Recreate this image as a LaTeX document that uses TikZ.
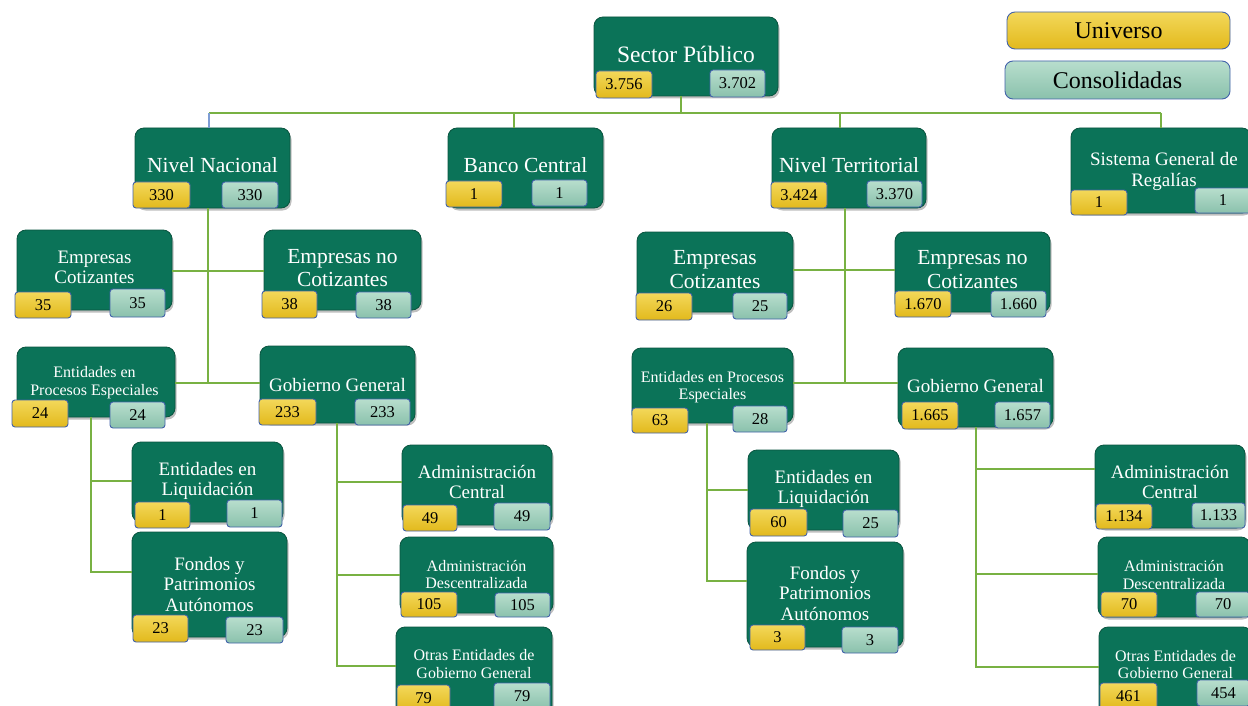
\documentclass[tikz,border=0pt]{standalone}
\usepackage{fontspec}
\setmainfont{Liberation Serif}
\usetikzlibrary{shadows}
\definecolor{gfill}{HTML}{0B7358}
\definecolor{gborder}{HTML}{09543F}
\definecolor{ytop}{HTML}{F3D85A}
\definecolor{ybot}{HTML}{E2B91C}
\definecolor{ttop}{HTML}{B8DECD}
\definecolor{tbot}{HTML}{8AC1AC}
\definecolor{bborder}{HTML}{4262AA}
\definecolor{lgreen}{HTML}{78B143}
\definecolor{lblue}{HTML}{7E9DD4}
\tikzset{
  gbox/.style={draw=gborder, line width=0.8pt, fill=gfill, rounded corners=9pt,
    inner sep=0pt, outer sep=0pt,
    drop shadow={shadow xshift=1.5pt, shadow yshift=-2.5pt, opacity=0.5}},
  numbox/.style={draw=bborder, line width=0.9pt, rounded corners=3pt,
    inner sep=0pt, outer sep=0pt, text=black,
    font=\fontsize{16.5}{18}\selectfont},
  ub/.style={numbox, top color=ytop, bottom color=ybot},
  cb/.style={numbox, top color=ttop, bottom color=tbot},
  gt/.style={text=white, align=center, inner sep=0pt},
  fa/.style={font=\fontsize{16}{17.5}\selectfont},
  fb/.style={font=\fontsize{19}{20.5}\selectfont},
  fc/.style={font=\fontsize{21.5}{23.5}\selectfont},
  conn/.style={draw=lgreen, line width=2.6pt},
  thinconn/.style={draw=lblue, line width=1.2pt}
}
\newcommand\gb[5]{\node[gbox, minimum width={#4-#2}, minimum height={#5-#3}] (#1) at ({(#2+#4)/2},{(#3+#5)/2}) {};}
\newcommand\nb[7]{\node[#1, minimum width={#5-#3}, minimum height={#6-#4}] (#2) at ({(#3+#5)/2},{(#4+#6)/2}) {#7};}
\begin{document}
\begin{tikzpicture}[x=1pt,y=-1pt]
\useasboundingbox (0,0) rectangle (1248,706);
\fill[white] (0,0) rectangle (1248,706);
\clip (0,0) rectangle (1248,706);

% ---------- boxes (nodes first, connectors drawn on background later) ----------
\begin{scope}
% level 0
\gb{SP}{594}{17}{778}{96}
% level 1
\gb{NN}{135}{128}{290}{208}
\gb{BC}{448}{128}{603}{208}
\gb{NT}{772}{128}{926}{208}
\gb{SGR}{1071}{128}{1251}{213}
% left side
\gb{ECL}{17}{230}{172}{310}
\gb{ENCL}{264}{230}{421}{310}
\gb{EPEL}{17}{347}{175}{417}
\gb{GGL}{260}{346}{415}{423}
\gb{ELL}{132}{442}{283}{522}
\gb{FPL}{132}{532}{287}{637}
\gb{ACL}{402}{445}{552}{525}
\gb{ADL}{400}{537}{553}{613}
\gb{OEL}{396}{627}{552}{720}
% right side
\gb{ECR}{637}{232}{793}{312}
\gb{ENCR}{895}{232}{1050}{312}
\gb{EPER}{632}{348}{793}{423}
\gb{GGR}{898}{348}{1053}{427}
\gb{ELR}{748}{450}{899}{530}
\gb{FPR}{747}{542}{903}{647}
\gb{ACR}{1095}{445}{1245}{528}
\gb{ADR}{1098}{537}{1250}{617}
\gb{OER}{1099}{627}{1252}{720}
\end{scope}

% ---------- connectors ----------
\coordinate (busL) at (209,113);
\coordinate (busR) at (1161,113);
\coordinate (jSP) at (681,113);
\coordinate (jBC) at (514,113);
\coordinate (jNT) at (840,113);
\draw[conn] (busL) -- (busR);
\draw[conn] (jSP) -- (jSP |- SP.south);
\draw[conn] (jBC) -- (jBC |- BC.north);
\draw[conn] (jNT) -- (jNT |- NT.north);
\draw[conn] (busR) -- (busR |- SGR.north);
\draw[thinconn] (busL) -- (busL |- NN.north);

% left tree
\coordinate (tL) at (208,383);
\coordinate (eL) at (208,271);
\draw[conn] (tL |- NN.south) -- (tL);
\draw[conn] (eL -| ECL.east) -- (eL -| ENCL.west);
\draw[conn] (tL -| EPEL.east) -- (tL -| GGL.west);
\coordinate (sL) at (91,572);
\coordinate (sL1) at (91,481);
\draw[conn] (sL |- EPEL.south) -- (sL) -- (sL -| FPL.west);
\draw[conn] (sL1) -- (sL1 -| ELL.west);
\coordinate (gL) at (337,666);
\coordinate (gL1) at (337,482);
\coordinate (gL2) at (337,575);
\draw[conn] (gL |- GGL.south) -- (gL) -- (gL -| OEL.west);
\draw[conn] (gL1) -- (gL1 -| ACL.west);
\draw[conn] (gL2) -- (gL2 -| ADL.west);

% right tree
\coordinate (tR) at (845,383);
\coordinate (eR) at (845,270);
\draw[conn] (tR |- NT.south) -- (tR);
\draw[conn] (eR -| ECR.east) -- (eR -| ENCR.west);
\draw[conn] (tR -| EPER.east) -- (tR -| GGR.west);
\coordinate (sR) at (707,581);
\coordinate (sR1) at (707,490);
\draw[conn] (sR |- EPER.south) -- (sR) -- (sR -| FPR.west);
\draw[conn] (sR1) -- (sR1 -| ELR.west);
\coordinate (gR) at (976,667);
\coordinate (gR1) at (976,469);
\coordinate (gR2) at (976,574);
\draw[conn] (gR |- GGR.south) -- (gR) -- (gR -| OER.west);
\draw[conn] (gR1) -- (gR1 -| ACR.west);
\draw[conn] (gR2) -- (gR2 -| ADR.west);

% ---------- texts ----------
\node[gt, font=\fontsize{23.5}{25}\selectfont, anchor=base] (SPt) at (686,63) {Sector Público};
\node[gt, fc, anchor=base] (NNt) at (212.5,173) {Nivel Nacional};
\node[gt, fc, anchor=base] (BCt) at (525.5,173) {Banco Central};
\node[gt, fc, anchor=base] (NTt) at (849,173) {Nivel Territorial};
\node[gt, fb] (SGRt) at (1164,171.5) {Sistema General de\\Regalías};
\node[gt, fb] (ECLt) at (94.5,267.5) {Empresas\\Cotizantes};
\node[gt, fc] (ENCLt) at (342.5,268) {Empresas no\\Cotizantes};
\node[gt, fa] (EPELt) at (94.5,382.5) {Entidades en\\Procesos Especiales};
\node[gt, fb, anchor=base] (GGLt) at (337.5,391) {Gobierno General};
\node[gt, fb] (ELLt) at (207.5,481) {Entidades en\\Liquidación};
\node[gt, fb] (FPLt) at (209.5,584) {Fondos y\\Patrimonios\\Autónomos};
\node[gt, fb] (ACLt) at (477,482) {Administración\\Central};
\node[gt, fa] (ADLt) at (476.5,574.5) {Administración\\Descentralizada};
\node[gt, fa] (OELt) at (474,664) {Otras Entidades de\\Gobierno General};
\node[gt, fc] (ECRt) at (715,269.5) {Empresas\\Cotizantes};
\node[gt, fc] (ENCRt) at (972.5,269.5) {Empresas no\\Cotizantes};
\node[gt, fa] (EPERt) at (712.5,387) {Entidades en Procesos\\Especiales};
\node[gt, fb, anchor=base] (GGRt) at (975.5,392) {Gobierno General};
\node[gt, fb] (ELRt) at (823.5,489) {Entidades en\\Liquidación};
\node[gt, fb] (FPRt) at (825,593) {Fondos y\\Patrimonios\\Autónomos};
\node[gt, fb] (ACRt) at (1170,482) {Administración\\Central};
\node[gt, fa] (ADRt) at (1174,575) {Administración\\Descentralizada};
\node[gt, fa] (OERt) at (1175.5,664.5) {Otras Entidades de\\Gobierno General};

% ---------- number boxes ----------
\nb{ub}{SPu}{596}{71}{652}{98}{3.756}
\nb{cb}{SPc}{710}{70}{765}{97}{3.702}
\nb{ub}{NNu}{133}{182}{190}{208}{330}
\nb{cb}{NNc}{222}{182}{278}{208}{330}
\nb{ub}{BCu}{446}{181}{502}{207}{1}
\nb{cb}{BCc}{532}{180}{587}{206}{1}
\nb{ub}{NTu}{771}{182}{827}{208}{3.424}
\nb{cb}{NTc}{867}{181}{922}{207}{3.370}
\nb{ub}{SGRu}{1071}{190}{1127}{215}{1}
\nb{cb}{SGRc}{1195}{188}{1251}{213}{1}
\nb{ub}{ECLu}{15}{292}{71}{318}{35}
\nb{cb}{ECLc}{110}{289}{165}{317}{35}
\nb{ub}{ENCLu}{262}{291}{317}{318}{38}
\nb{cb}{ENCLc}{356}{292}{411}{318}{38}
\nb{ub}{EPELu}{12}{400}{68}{427}{24}
\nb{cb}{EPELc}{110}{402}{165}{428}{24}
\nb{ub}{GGLu}{259}{399}{316}{425}{233}
\nb{cb}{GGLc}{355}{399}{410}{425}{233}
\nb{ub}{ELLu}{135}{502}{190}{528}{1}
\nb{cb}{ELLc}{227}{500}{282}{527}{1}
\nb{ub}{FPLu}{133}{615}{188}{642}{23}
\nb{cb}{FPLc}{226}{617}{283}{643}{23}
\nb{ub}{ACLu}{403}{505}{457}{531}{49}
\nb{cb}{ACLc}{494}{503}{550}{530}{49}
\nb{ub}{ADLu}{401}{592}{457}{617}{105}
\nb{cb}{ADLc}{495}{593}{550}{617}{105}
\nb{ub}{OELu}{397}{685}{450}{711}{79}
\nb{cb}{OELc}{494}{683}{550}{709}{79}
\nb{ub}{ECRu}{636}{293}{692}{320}{26}
\nb{cb}{ECRc}{733}{293}{787}{319}{25}
\nb{ub}{ENCRu}{895}{291}{951}{317}{1.670}
\nb{cb}{ENCRc}{991}{291}{1046}{317}{1.660}
\nb{ub}{EPERu}{632}{408}{688}{433}{63}
\nb{cb}{EPERc}{733}{406}{787}{432}{28}
\nb{ub}{GGRu}{902}{402}{958}{429}{1.665}
\nb{cb}{GGRc}{995}{402}{1050}{428}{1.657}
\nb{ub}{ELRu}{750}{509}{807}{536}{60}
\nb{cb}{ELRc}{843}{510}{898}{537}{25}
\nb{ub}{FPRu}{750}{625}{805}{650}{3}
\nb{cb}{FPRc}{842}{627}{898}{653}{3}
\nb{ub}{ACRu}{1096}{504}{1152}{529}{1.134}
\nb{cb}{ACRc}{1192}{503}{1245}{528}{1.133}
\nb{ub}{ADRu}{1101}{592}{1157}{617}{70}
\nb{cb}{ADRc}{1196}{592}{1250}{617}{70}
\nb{ub}{OERu}{1100}{683}{1157}{709}{461}
\nb{cb}{OERc}{1197}{680}{1250}{706}{454}

% ---------- legend ----------
\node[ub, rounded corners=8pt, font=\fontsize{24}{26}\selectfont, minimum width=223, minimum height=37] (legU) at (1118.5,30.5) {Universo};
\node[cb, rounded corners=8pt, font=\fontsize{24}{26}\selectfont, minimum width=225, minimum height=38] (legC) at (1117.5,80) {Consolidadas};
\end{tikzpicture}
\end{document}
